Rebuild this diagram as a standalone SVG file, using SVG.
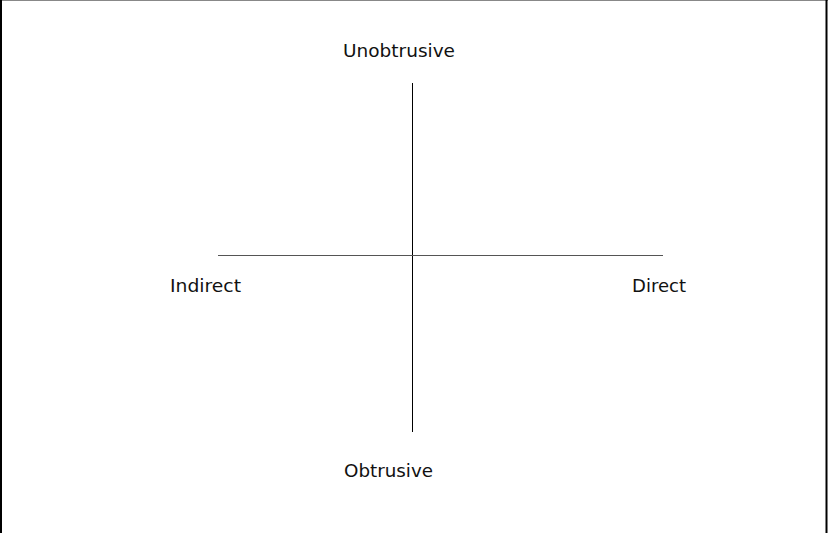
<svg xmlns="http://www.w3.org/2000/svg" width="828" height="533" viewBox="0 0 828 533">
<style>
.lbl{font-family:"DejaVu Sans","Liberation Sans",sans-serif;font-size:18px;fill:#111;text-anchor:middle}
</style>
<rect x="0" y="0" width="828" height="533" fill="#fff"/>
<g id="frame">
<line x1="0" y1="0.5" x2="828" y2="0.5" stroke="#888" stroke-width="1"/>
<line x1="1" y1="0" x2="1" y2="533" stroke="#000" stroke-width="2"/>
<line x1="826.5" y1="0" x2="826.5" y2="533" stroke="#000" stroke-width="2"/>
</g>
<g id="connectors">
<line x1="412.5" y1="83" x2="412.5" y2="432" stroke="#000" stroke-width="1"/>
<line x1="218" y1="255.5" x2="663" y2="255.5" stroke="#555" stroke-width="1"/>
</g>
<g id="unobtrusive"><text class="lbl" x="399" y="57" textLength="112" lengthAdjust="spacingAndGlyphs">Unobtrusive</text></g>
<g id="indirect"><text class="lbl" x="205.5" y="292" textLength="71" lengthAdjust="spacingAndGlyphs">Indirect</text></g>
<g id="direct"><text class="lbl" x="659" y="292" textLength="54" lengthAdjust="spacingAndGlyphs">Direct</text></g>
<g id="obtrusive"><text class="lbl" x="388.5" y="477" textLength="89" lengthAdjust="spacingAndGlyphs">Obtrusive</text></g>
</svg>
